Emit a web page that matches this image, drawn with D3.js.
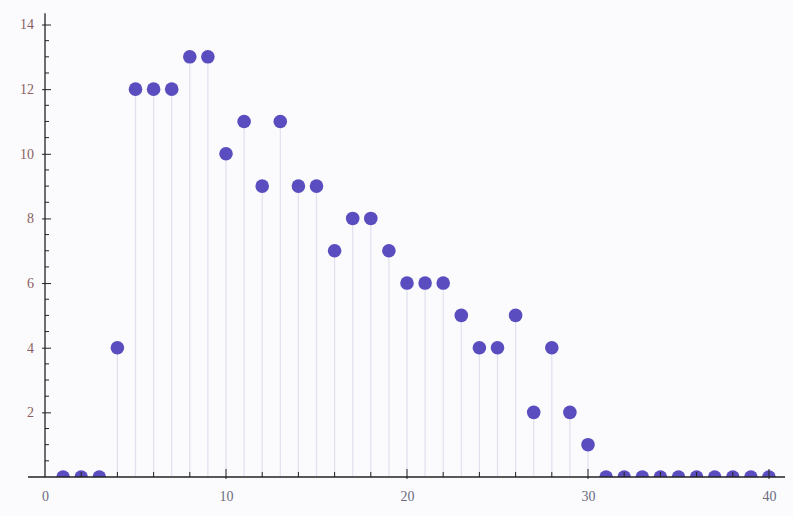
<!DOCTYPE html>
<html>
<head>
<meta charset="utf-8">
<script src="https://cdn.jsdelivr.net/npm/d3@7"></script>
<style>
  body { margin: 0; background: #fbfbfd; }
  svg { display: block; }
</style>
</head>
<body>
<script>
// data
const xs = d3.range(1, 41);
const counts = [0, 0, 0, 4, 12, 12, 12, 13, 13, 10,
                11, 9, 11, 9, 9, 7, 8, 8, 7, 6,
                6, 6, 5, 4, 4, 5, 2, 4, 2, 1,
                0, 0, 0, 0, 0, 0, 0, 0, 0, 0];
const yTicks = [2, 4, 6, 8, 10, 12, 14];
const xTicks = [0, 10, 20, 30, 40];

const width = 793;
const height = 516;

const data = xs.map((x, i) => ({ x: x, y: counts[i] }));

// scales
const xScale = d3.scaleLinear().domain([0, 40]).range([45, 769]);
const yScale = d3.scaleLinear().domain([0, 14]).range([477, 24.5]);

const svg = d3.select("body")
    .append("svg")
    .attr("width", width)
    .attr("height", height);

svg.append("rect")
    .attr("width", width)
    .attr("height", height)
    .attr("fill", "#fbfbfd");

svg.append("clipPath")
    .attr("id", "plotclip")
    .append("rect")
    .attr("x", 0)
    .attr("y", 0)
    .attr("width", width)
    .attr("height", yScale(0));

// stems
svg.append("g")
    .selectAll("line")
    .data(data.filter(d => d.y > 0))
    .enter()
    .append("line")
    .attr("x1", d => xScale(d.x))
    .attr("x2", d => xScale(d.x))
    .attr("y1", yScale(0))
    .attr("y2", d => yScale(d.y))
    .attr("stroke", "#e0e0f0")
    .attr("stroke-width", 1.2);

// points
svg.append("g")
    .attr("clip-path", "url(#plotclip)")
    .selectAll("circle")
    .data(data)
    .enter()
    .append("circle")
    .attr("cx", d => xScale(d.x))
    .attr("cy", d => yScale(d.y))
    .attr("r", 6.8)
    .attr("fill", "#5a4dbf");

// y axis with minor ticks
const yMinor = d3.range(0.5, 14.01, 0.5).filter(v => v % 2 !== 0);
const leftAxis = d3.axisLeft(yScale)
    .tickValues(yTicks)
    .tickSize(8)
    .tickPadding(4);

const yAxisG = svg.append("g")
    .attr("transform", "translate(" + xScale(0) + ",0)")
    .call(leftAxis);

yAxisG.select(".domain").remove();
yAxisG.selectAll(".tick line")
    .attr("x1", -3)
    .attr("x2", 6)
    .attr("stroke", "#222");
yAxisG.selectAll(".tick text")
    .attr("x", -11)
    .attr("fill", "#8a5e62")
    .style("font-family", "Liberation Serif, serif")
    .style("font-size", "14px");

yAxisG.append("g")
    .selectAll("line")
    .data(yMinor)
    .enter()
    .append("line")
    .attr("x1", 0)
    .attr("x2", 4)
    .attr("y1", d => yScale(d))
    .attr("y2", d => yScale(d))
    .attr("stroke", "#222");

yAxisG.append("line")
    .attr("x1", 0)
    .attr("x2", 0)
    .attr("y1", yScale(0))
    .attr("y2", yScale(14.35))
    .attr("stroke", "#222")
    .attr("stroke-width", 1.3);

// x axis with minor ticks
const xMinor = d3.range(2, 40, 2).filter(v => v % 10 !== 0);
const bottomAxis = d3.axisBottom(xScale)
    .tickValues(xTicks)
    .tickSize(0)
    .tickPadding(14);

const xAxisG = svg.append("g")
    .attr("transform", "translate(0," + yScale(0) + ")")
    .call(bottomAxis);

xAxisG.select(".domain").remove();
xAxisG.selectAll(".tick line").remove();
xAxisG.selectAll(".tick text")
    .attr("fill", "#6b6b80")
    .style("font-family", "Liberation Serif, serif")
    .style("font-size", "14px");

xAxisG.append("g")
    .selectAll("line")
    .data(xTicks.filter(v => v > 0))
    .enter()
    .append("line")
    .attr("x1", d => xScale(d))
    .attr("x2", d => xScale(d))
    .attr("y1", 2)
    .attr("y2", -8)
    .attr("stroke", "#222");

xAxisG.append("g")
    .selectAll("line")
    .data(xMinor)
    .enter()
    .append("line")
    .attr("x1", d => xScale(d))
    .attr("x2", d => xScale(d))
    .attr("y1", 0)
    .attr("y2", -5)
    .attr("stroke", "#222");

xAxisG.append("line")
    .attr("x1", 28)
    .attr("x2", 785)
    .attr("y1", 0)
    .attr("y2", 0)
    .attr("stroke", "#222")
    .attr("stroke-width", 1.3);
</script>
</body>
</html>
